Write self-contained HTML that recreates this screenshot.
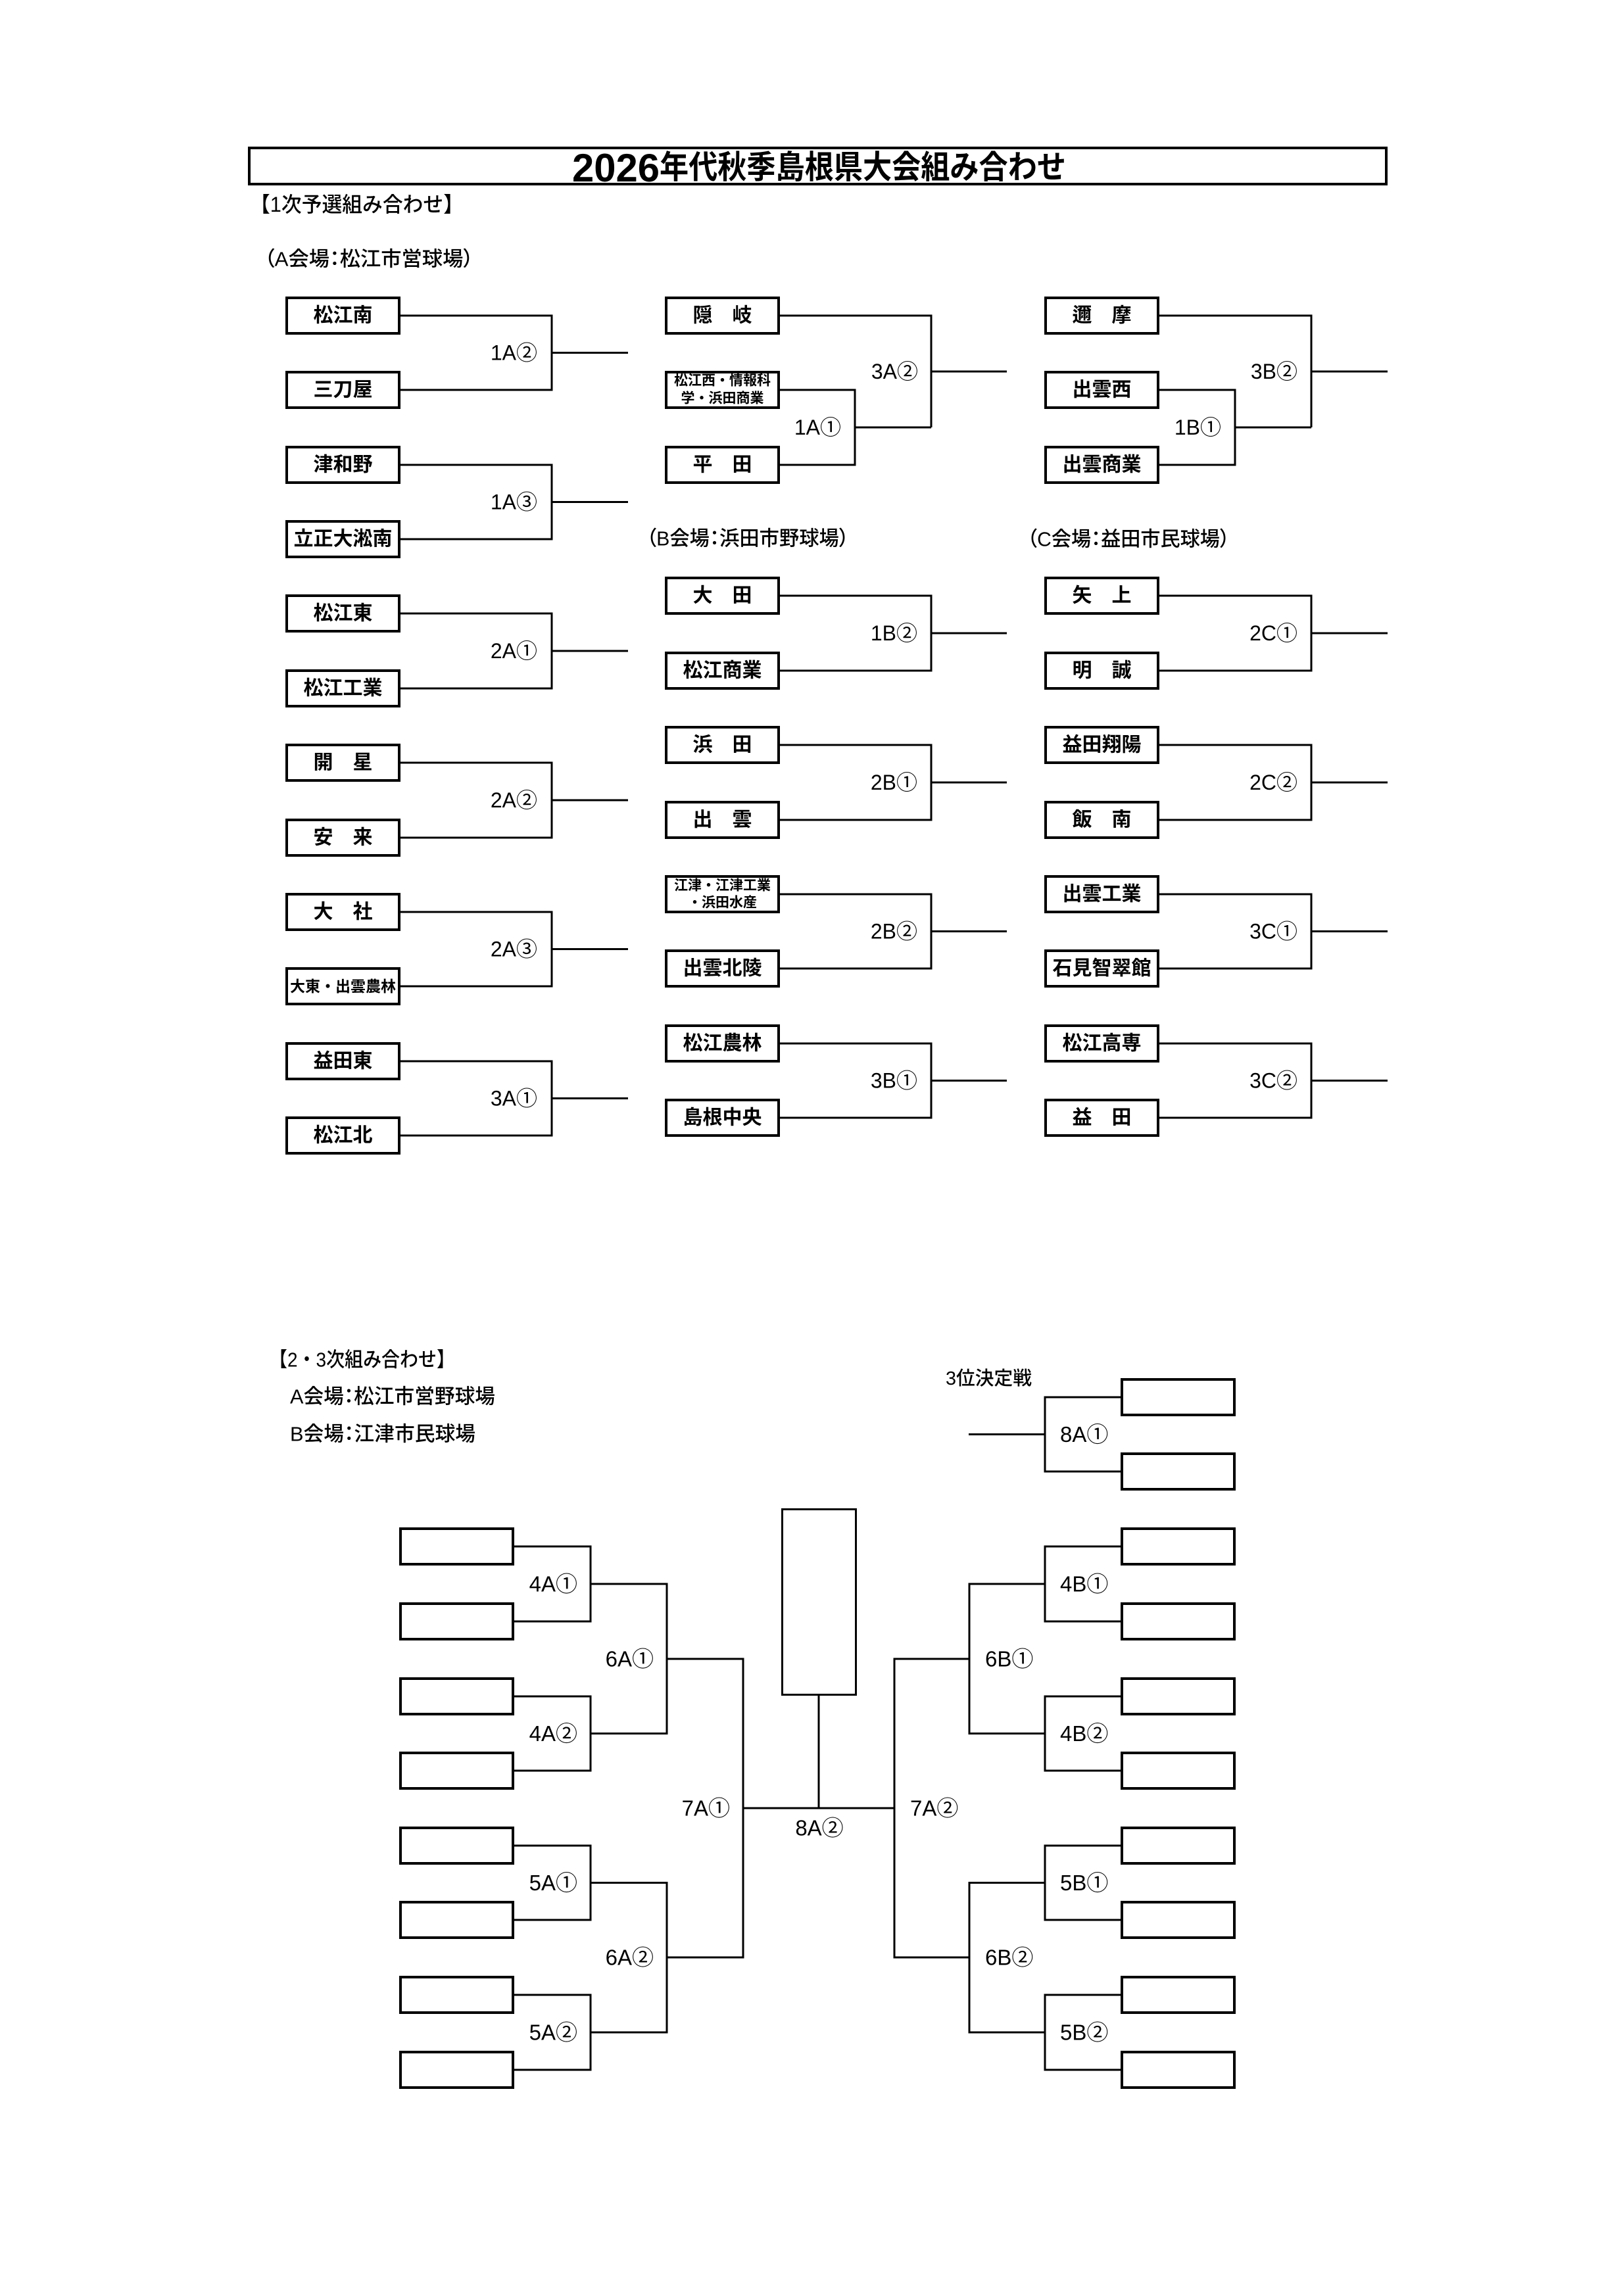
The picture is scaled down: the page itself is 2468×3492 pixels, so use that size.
<!DOCTYPE html>
<html><head><meta charset="utf-8"><style>
html,body{margin:0;padding:0;background:#fff;}
svg{display:block;}
text{font-family:"Liberation Sans","Noto Sans CJK JP",sans-serif;fill:#000;}
.n{font-size:30px;font-weight:bold;text-anchor:middle;dominant-baseline:central;}
.s{font-size:21px;font-weight:bold;text-anchor:middle;dominant-baseline:central;}
.l{font-size:32px;dominant-baseline:central;}
.e{text-anchor:end;}
.m{text-anchor:middle;}
.L{font-size:33px;dominant-baseline:central;}
.v{font-size:31px;font-weight:500;dominant-baseline:central;font-feature-settings:"palt";}
.h{font-size:32px;font-weight:500;dominant-baseline:central;}
.b{fill:#fff;stroke:#000;stroke-width:4;}
.k{fill:none;stroke:#000;stroke-width:3;stroke-linejoin:miter;}
</style></head><body>
<svg width="2468" height="3492" viewBox="0 0 2468 3492" xmlns="http://www.w3.org/2000/svg">
<rect x="0" y="0" width="2468" height="3492" fill="#fff"/>

<!-- Title -->
<rect x="379" y="225" width="1729" height="55" class="b"/>
<text x="870" y="276" font-size="60" font-weight="bold" textLength="133" lengthAdjust="spacingAndGlyphs">2026</text>
<text x="1003" y="255" font-size="49" font-weight="bold" dominant-baseline="central" textLength="618" lengthAdjust="spacingAndGlyphs">年代秋季島根県大会組み合わせ</text>

<text x="380" y="311" class="h" textLength="325" lengthAdjust="spacingAndGlyphs">【1次予選組み合わせ】</text>
<text x="402" y="394" class="v" textLength="318" lengthAdjust="spacingAndGlyphs">（A会場：松江市営球場）</text>
<text x="983" y="819" class="v" textLength="308" lengthAdjust="spacingAndGlyphs">（B会場：浜田市野球場）</text>
<text x="1562" y="820" class="v" textLength="308" lengthAdjust="spacingAndGlyphs">（C会場：益田市民球場）</text>

<!-- Column 1 boxes -->
<g>
<rect x="436" y="453" width="171" height="54" class="b"/>
<rect x="436" y="566" width="171" height="54" class="b"/>
<rect x="436" y="680" width="171" height="54" class="b"/>
<rect x="436" y="793" width="171" height="54" class="b"/>
<rect x="436" y="906" width="171" height="54" class="b"/>
<rect x="436" y="1020" width="171" height="54" class="b"/>
<rect x="436" y="1133" width="171" height="54" class="b"/>
<rect x="436" y="1247" width="171" height="54" class="b"/>
<rect x="436" y="1360" width="171" height="54" class="b"/>
<rect x="436" y="1473" width="171" height="54" class="b"/>
<rect x="436" y="1587" width="171" height="54" class="b"/>
<rect x="436" y="1700" width="171" height="54" class="b"/>
</g>
<text x="521.5" y="480" class="n">松江南</text>
<text x="521.5" y="593" class="n">三刀屋</text>
<text x="521.5" y="707" class="n">津和野</text>
<text x="521.5" y="820" class="n">立正大淞南</text>
<text x="521.5" y="933" class="n">松江東</text>
<text x="521.5" y="1047" class="n">松江工業</text>
<text x="521.5" y="1160" class="n">開　星</text>
<text x="521.5" y="1274" class="n">安　来</text>
<text x="521.5" y="1387" class="n">大　社</text>
<text x="521.5" y="1500" class="n" style="font-size:23px">大東・出雲農林</text>
<text x="521.5" y="1614" class="n">益田東</text>
<text x="521.5" y="1727" class="n">松江北</text>

<!-- Column 1 brackets -->
<path class="k" d="M609 480 H839 V593 H609 M839 536.5 H955"/>
<path class="k" d="M609 707 H839 V820 H609 M839 763.5 H955"/>
<path class="k" d="M609 933 H839 V1047 H609 M839 990 H955"/>
<path class="k" d="M609 1160 H839 V1274 H609 M839 1217 H955"/>
<path class="k" d="M609 1387 H839 V1500 H609 M839 1443.5 H955"/>
<path class="k" d="M609 1614 H839 V1727 H609 M839 1670.5 H955"/>
<text x="817" y="536.5" class="l e">1A②</text>
<text x="817" y="763.5" class="l e">1A③</text>
<text x="817" y="990" class="l e">2A①</text>
<text x="817" y="1217" class="l e">2A②</text>
<text x="817" y="1443.5" class="l e">2A③</text>
<text x="817" y="1670.5" class="l e">3A①</text>

<!-- Column 2 boxes -->
<g>
<rect x="1013" y="453" width="171" height="54" class="b"/>
<rect x="1013" y="566" width="171" height="54" class="b"/>
<rect x="1013" y="680" width="171" height="54" class="b"/>
<rect x="1013" y="879" width="171" height="54" class="b"/>
<rect x="1013" y="993" width="171" height="54" class="b"/>
<rect x="1013" y="1106" width="171" height="54" class="b"/>
<rect x="1013" y="1220" width="171" height="54" class="b"/>
<rect x="1013" y="1333" width="171" height="54" class="b"/>
<rect x="1013" y="1446" width="171" height="54" class="b"/>
<rect x="1013" y="1560" width="171" height="54" class="b"/>
<rect x="1013" y="1673" width="171" height="54" class="b"/>
</g>
<text x="1098.5" y="480" class="n">隠　岐</text>
<text x="1098.5" y="579" class="s">松江西・情報科</text>
<text x="1098.5" y="606" class="s">学・浜田商業</text>
<text x="1098.5" y="707" class="n">平　田</text>
<text x="1098.5" y="906" class="n">大　田</text>
<text x="1098.5" y="1020" class="n">松江商業</text>
<text x="1098.5" y="1133" class="n">浜　田</text>
<text x="1098.5" y="1247" class="n">出　雲</text>
<text x="1098.5" y="1347" class="s">江津・江津工業</text>
<text x="1098.5" y="1373" class="s">・浜田水産</text>
<text x="1098.5" y="1473" class="n">出雲北陵</text>
<text x="1098.5" y="1587" class="n">松江農林</text>
<text x="1098.5" y="1700" class="n">島根中央</text>

<!-- Column 2 brackets -->
<path class="k" d="M1186 593 H1300 V707 H1186 M1300 650 H1416"/>
<path class="k" d="M1186 480 H1416 V650 M1416 565 H1531"/>
<path class="k" d="M1186 906 H1416 V1020 H1186 M1416 963 H1531"/>
<path class="k" d="M1186 1133 H1416 V1247 H1186 M1416 1190 H1531"/>
<path class="k" d="M1186 1360 H1416 V1473 H1186 M1416 1416.5 H1531"/>
<path class="k" d="M1186 1587 H1416 V1700 H1186 M1416 1643.5 H1531"/>
<text x="1279" y="650" class="l e">1A①</text>
<text x="1396" y="565" class="l e">3A②</text>
<text x="1395" y="963" class="l e">1B②</text>
<text x="1395" y="1190" class="l e">2B①</text>
<text x="1395" y="1416.5" class="l e">2B②</text>
<text x="1395" y="1643.5" class="l e">3B①</text>

<!-- Column 3 boxes -->
<g>
<rect x="1590" y="453" width="171" height="54" class="b"/>
<rect x="1590" y="566" width="171" height="54" class="b"/>
<rect x="1590" y="680" width="171" height="54" class="b"/>
<rect x="1590" y="879" width="171" height="54" class="b"/>
<rect x="1590" y="993" width="171" height="54" class="b"/>
<rect x="1590" y="1106" width="171" height="54" class="b"/>
<rect x="1590" y="1220" width="171" height="54" class="b"/>
<rect x="1590" y="1333" width="171" height="54" class="b"/>
<rect x="1590" y="1446" width="171" height="54" class="b"/>
<rect x="1590" y="1560" width="171" height="54" class="b"/>
<rect x="1590" y="1673" width="171" height="54" class="b"/>
</g>
<text x="1675.5" y="480" class="n">邇　摩</text>
<text x="1675.5" y="593" class="n">出雲西</text>
<text x="1675.5" y="707" class="n">出雲商業</text>
<text x="1675.5" y="906" class="n">矢　上</text>
<text x="1675.5" y="1020" class="n">明　誠</text>
<text x="1675.5" y="1133" class="n">益田翔陽</text>
<text x="1675.5" y="1247" class="n">飯　南</text>
<text x="1675.5" y="1360" class="n">出雲工業</text>
<text x="1675.5" y="1473" class="n">石見智翠館</text>
<text x="1675.5" y="1587" class="n">松江高専</text>
<text x="1675.5" y="1700" class="n">益　田</text>

<!-- Column 3 brackets -->
<path class="k" d="M1763 593 H1878 V707 H1763 M1878 650 H1994"/>
<path class="k" d="M1763 480 H1994 V650 M1994 565 H2110"/>
<path class="k" d="M1763 906 H1994 V1020 H1763 M1994 963 H2110"/>
<path class="k" d="M1763 1133 H1994 V1247 H1763 M1994 1190 H2110"/>
<path class="k" d="M1763 1360 H1994 V1473 H1763 M1994 1416.5 H2110"/>
<path class="k" d="M1763 1587 H1994 V1700 H1763 M1994 1643.5 H2110"/>
<text x="1857" y="650" class="l e">1B①</text>
<text x="1973" y="565" class="l e">3B②</text>
<text x="1973" y="963" class="l e">2C①</text>
<text x="1973" y="1190" class="l e">2C②</text>
<text x="1973" y="1416.5" class="l e">3C①</text>
<text x="1973" y="1643.5" class="l e">3C②</text>

<!-- Second section headers -->
<text x="409" y="2068" class="h" style="font-size:31px" textLength="283" lengthAdjust="spacingAndGlyphs">【2・3次組み合わせ】</text>
<text x="441" y="2124" class="v" textLength="312" lengthAdjust="spacingAndGlyphs">A会場：松江市営野球場</text>
<text x="441" y="2181" class="v" textLength="282" lengthAdjust="spacingAndGlyphs">B会場：江津市民球場</text>
<text x="1438" y="2097" class="h" style="font-size:29px" textLength="131" lengthAdjust="spacingAndGlyphs">3位決定戦</text>

<!-- 3rd place -->
<rect x="1706" y="2098" width="171" height="54" class="b"/>
<rect x="1706" y="2211" width="171" height="54" class="b"/>
<path class="k" d="M1704 2125 H1589 V2238 H1704 M1589 2181.5 H1473"/>
<text x="1612" y="2181.5" class="L">8A①</text>

<!-- Left boxes -->
<g>
<rect x="609" y="2325" width="171" height="54" class="b"/>
<rect x="609" y="2439" width="171" height="54" class="b"/>
<rect x="609" y="2553" width="171" height="54" class="b"/>
<rect x="609" y="2666" width="171" height="54" class="b"/>
<rect x="609" y="2780" width="171" height="54" class="b"/>
<rect x="609" y="2893" width="171" height="54" class="b"/>
<rect x="609" y="3007" width="171" height="54" class="b"/>
<rect x="609" y="3121" width="171" height="54" class="b"/>
</g>
<!-- Right boxes -->
<g>
<rect x="1706" y="2325" width="171" height="54" class="b"/>
<rect x="1706" y="2439" width="171" height="54" class="b"/>
<rect x="1706" y="2553" width="171" height="54" class="b"/>
<rect x="1706" y="2666" width="171" height="54" class="b"/>
<rect x="1706" y="2780" width="171" height="54" class="b"/>
<rect x="1706" y="2893" width="171" height="54" class="b"/>
<rect x="1706" y="3007" width="171" height="54" class="b"/>
<rect x="1706" y="3121" width="171" height="54" class="b"/>
</g>
<!-- Center box -->
<rect x="1189.5" y="2295.5" width="112" height="282" fill="#fff" stroke="#000" stroke-width="3"/>

<!-- Left brackets -->
<path class="k" d="M782 2352 H898 V2466 H782"/>
<path class="k" d="M782 2580 H898 V2693 H782"/>
<path class="k" d="M782 2807 H898 V2920 H782"/>
<path class="k" d="M782 3034 H898 V3148 H782"/>
<path class="k" d="M898 2409 H1014 V2636.5 H898"/>
<path class="k" d="M898 2863.5 H1014 V3091 H898"/>
<path class="k" d="M1014 2523 H1130 V2977 H1014"/>
<path class="k" d="M1130 2750 H1360"/>
<path class="k" d="M1245 2579 V2750"/>
<!-- Right brackets -->
<path class="k" d="M1704 2352 H1589 V2466 H1704"/>
<path class="k" d="M1704 2580 H1589 V2693 H1704"/>
<path class="k" d="M1704 2807 H1589 V2920 H1704"/>
<path class="k" d="M1704 3034 H1589 V3148 H1704"/>
<path class="k" d="M1589 2409 H1474 V2636.5 H1589"/>
<path class="k" d="M1589 2863.5 H1474 V3091 H1589"/>
<path class="k" d="M1474 2523 H1360 V2977 H1474"/>

<!-- Lower labels -->
<text x="878" y="2409" class="L e">4A①</text>
<text x="878" y="2636.5" class="L e">4A②</text>
<text x="878" y="2863.5" class="L e">5A①</text>
<text x="878" y="3091" class="L e">5A②</text>
<text x="994" y="2523" class="L e">6A①</text>
<text x="994" y="2977" class="L e">6A②</text>
<text x="1110" y="2750" class="L e">7A①</text>
<text x="1246" y="2780" class="L m">8A②</text>
<text x="1384" y="2750" class="L">7A②</text>
<text x="1498" y="2523" class="L">6B①</text>
<text x="1498" y="2977" class="L">6B②</text>
<text x="1612" y="2409" class="L">4B①</text>
<text x="1612" y="2636.5" class="L">4B②</text>
<text x="1612" y="2863.5" class="L">5B①</text>
<text x="1612" y="3091" class="L">5B②</text>
</svg>
</body></html>
